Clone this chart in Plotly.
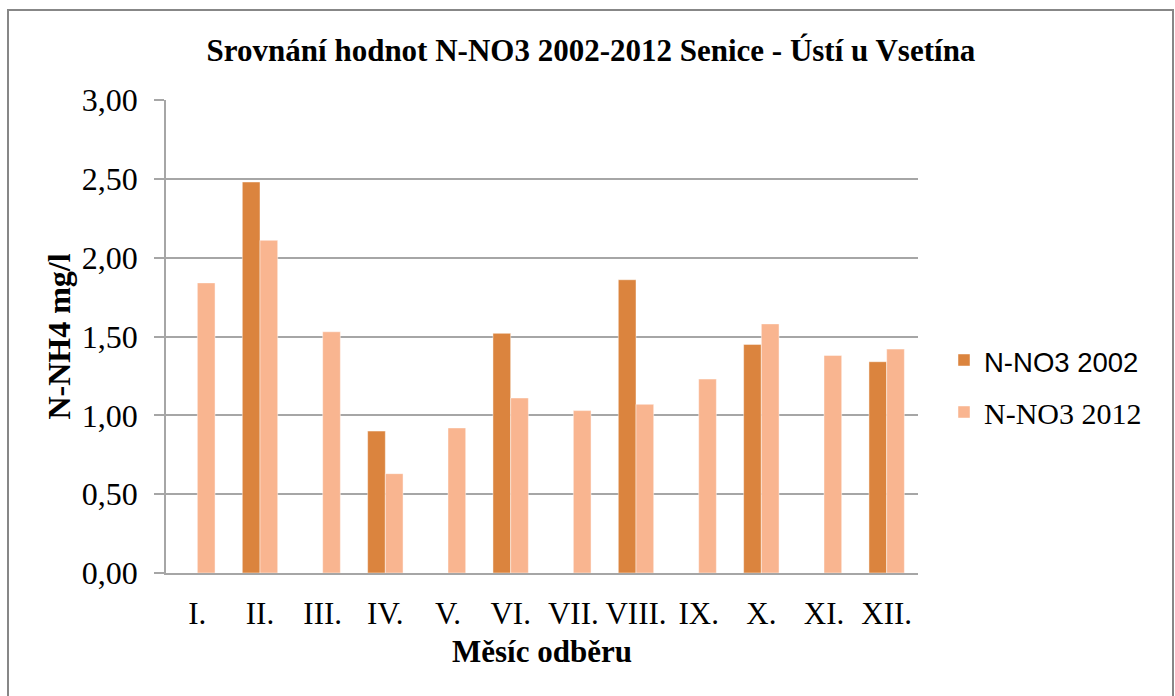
import plotly.graph_objects as go

# Monthly sampling results, N-NO3 (mg/l), Senice - Ústí u Vsetína
months = ["I.", "II.", "III.", "IV.", "V.", "VI.", "VII.", "VIII.", "IX.", "X.", "XI.", "XII."]
values_2002 = [None, 2.48, None, 0.90, None, 1.52, None, 1.86, None, 1.45, None, 1.34]
values_2012 = [1.84, 2.11, 1.53, 0.63, 0.92, 1.11, 1.03, 1.07, 1.23, 1.58, 1.38, 1.42]
y_ticks = [0, 0.5, 1.0, 1.5, 2.0, 2.5, 3.0]

W, H = 1175, 696
M_L, M_R, M_T, M_B = 166, 257, 100, 123
PLOT_W = W - M_L - M_R
PLOT_H = H - M_T - M_B


def px_x(x):
    return (x - M_L) / PLOT_W


def px_y(y):
    return (H - M_B - y) / PLOT_H


SERIF = "Liberation Serif, Times New Roman, serif"
GRID = "#a6a6a6"

fig = go.Figure()
fig.add_trace(go.Bar(
    x=months, y=values_2002,
    name='<span style="font-family:Liberation Sans, Arial, sans-serif;font-size:27.5px">N-NO3 2002</span>',
    marker=dict(color="#db843e", line=dict(color="rgba(255,255,255,0.45)", width=1)),
    legendgroup="a",
))
fig.add_trace(go.Bar(
    x=months, y=values_2012, name="N-NO3 2012",
    marker=dict(color="#f9b590", line=dict(color="rgba(255,255,255,0.45)", width=1)),
    legendgroup="b",
))

fig.update_layout(
    width=W, height=H,
    margin=dict(l=M_L, r=M_R, t=M_T, b=M_B),
    paper_bgcolor="white", plot_bgcolor="white",
    separators=", ",
    barmode="group", bargap=0.435, bargroupgap=0,
    font=dict(family=SERIF, size=30, color="#000000"),
    title=dict(
        text="<b>Srovnání hodnot N-NO3 2002-2012 Senice - Ústí u Vsetína</b>",
        x=591 / W, xanchor="center", y=1 - 50 / H, yanchor="middle",
        font=dict(family=SERIF, size=31, color="#000000"),
    ),
    showlegend=True,
    legend=dict(
        x=px_x(944), xanchor="left", y=px_y(386), yanchor="middle",
        font=dict(family=SERIF, size=30, color="#000000"),
        tracegroupgap=10, bgcolor="rgba(0,0,0,0)",
    ),
    xaxis=dict(
        showgrid=False, showline=True, linecolor=GRID, linewidth=1.5,
        ticks="", ticklabelstandoff=12,
        tickfont=dict(family=SERIF, size=31),
        title=dict(text="<b>Měsíc odběru</b>", standoff=10,
                   font=dict(family=SERIF, size=31)),
    ),
    yaxis=dict(
        range=[0, 3], tickvals=y_ticks, tickformat=".2f",
        showgrid=True, gridcolor=GRID, gridwidth=1.5,
        showline=True, linecolor=GRID, linewidth=1.5,
        ticks="outside", ticklen=10, tickcolor=GRID, tickwidth=1.5,
        ticklabelstandoff=10,
        tickfont=dict(family=SERIF, size=32),
        zeroline=False,
        title=dict(text="<b>N-NH4 mg/l</b>", standoff=2,
                   font=dict(family=SERIF, size=32)),
    ),
    shapes=[dict(
        type="rect", xref="paper", yref="paper",
        x0=px_x(8), x1=px_x(1173), y0=px_y(705), y1=px_y(10),
        line=dict(color="#878787", width=2), fillcolor="rgba(0,0,0,0)", layer="below",
    )],
)

fig.write_html("out.html")
